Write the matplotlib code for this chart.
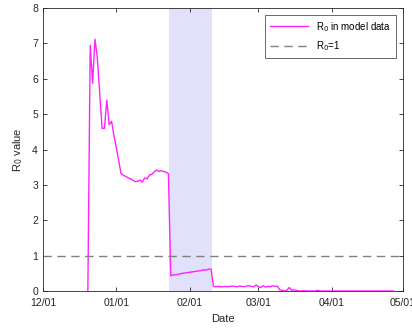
import numpy as np
import matplotlib.pyplot as plt
import matplotlib.dates as mdates

plt.rcParams['font.family'] = ['Liberation Sans', 'DejaVu Sans']

# days counted from 2019-12-01
start = np.datetime64('2019-12-01')
first_day = 19
r0 = [0.0, 6.95, 5.87, 7.12, 6.6, 5.6, 4.6, 4.6, 5.4, 4.7,
      4.8, 4.4, 4.05, 3.7, 3.32, 3.27, 3.24, 3.2, 3.17, 3.13,
      3.09, 3.1, 3.14, 3.08, 3.2, 3.17, 3.28, 3.3, 3.37, 3.42,
      3.38, 3.4, 3.38, 3.36, 3.32, 0.43, 0.45, 0.46, 0.47, 0.49,
      0.5, 0.51, 0.52, 0.53, 0.54, 0.55, 0.56, 0.57, 0.58, 0.6,
      0.59, 0.62, 0.62, 0.13, 0.12, 0.13, 0.12, 0.12, 0.13, 0.12,
      0.13, 0.14, 0.13, 0.12, 0.14, 0.13, 0.12, 0.14, 0.15, 0.13,
      0.12, 0.17, 0.12, 0.1, 0.15, 0.11, 0.13, 0.12, 0.15, 0.13,
      0.14, 0.03, 0.02, 0.0, 0.02, 0.1, 0.02, 0.03, 0.02, 0.0,
      0.0, 0.01, 0.0, 0.0, 0.0, 0.0, 0.0, 0.02, 0.0, 0.0,
      0.0, 0.0, 0.0, 0.0, 0.0, 0.0, 0.0, 0.0, 0.0, 0.0,
      0.0, 0.0, 0.0, 0.0, 0.0, 0.0, 0.0, 0.0, 0.0, 0.0,
      0.0, 0.0, 0.0, 0.0, 0.0, 0.0, 0.0, 0.0, 0.0, 0.0]
dates = start + np.arange(first_day, first_day + len(r0))

shade_from = np.datetime64('2020-01-23T08')
shade_to = np.datetime64('2020-02-10T12')
tick_dates = ['2019-12-01', '2020-01-01', '2020-02-01', '2020-03-01', '2020-04-01', '2020-05-01']

fig = plt.figure(figsize=(4.12, 3.29), dpi=100)
ax = fig.add_axes([0.104, 0.1155, 0.874, 0.86])

ax.axvspan(shade_from, shade_to, color='#e1e1fb', lw=0, zorder=0)
ax.plot(dates, r0, color='#ff22ff', lw=1, label='R$_0$ in model data')
ax.axhline(1, color='#808080', lw=1, ls=(0, (6, 4)), label='R$_0$=1')

ax.set_xlim(np.datetime64('2019-12-01'), np.datetime64('2020-05-01'))
ax.set_ylim(0, 8)
ax.set_xticks([np.datetime64(d) for d in tick_dates])
ax.xaxis.set_major_formatter(mdates.DateFormatter('%m/%d'))
ax.set_yticks(range(9))

ax.tick_params(direction='in', length=3, width=0.6, colors='#262626', labelsize=7.5,
               top=True, right=True)
ax.tick_params(axis='x', pad=5)
for s in ax.spines.values():
    s.set_color('#262626')
    s.set_linewidth(0.6)

ax.set_xlabel('Date', fontsize=8, color='#262626', labelpad=4)
ax.set_ylabel('R$_0$ value', fontsize=8, color='#262626', labelpad=5)

leg = ax.legend(loc='upper right', fontsize=7, frameon=True, fancybox=False,
                edgecolor='#262626', borderpad=0.5, handlelength=4,
                borderaxespad=0.7, labelspacing=0.6)
leg.get_frame().set_linewidth(0.6)

fig.savefig('out.png', dpi=100)
